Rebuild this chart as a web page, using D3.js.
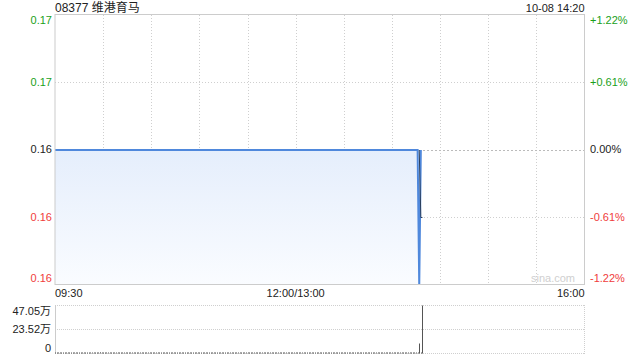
<!DOCTYPE html>
<html><head><meta charset="utf-8">
<script src="https://cdn.jsdelivr.net/npm/d3@7"></script>
<style>
html,body{margin:0;padding:0;background:#fff;}
svg{display:block;font-family:"Liberation Sans",Arial,"Noto Sans CJK SC",sans-serif;}
</style></head>
<body>
<svg id="c" width="640" height="360"></svg>
<script>
// ---- data ----
const title = "08377 维港育马";
const stamp = "10-08 14:20";
const prevClose = 0.164;
const priceTickValues = [0.166, 0.165, 0.164, 0.163, 0.162];
const priceTickLabels = ["0.17", "0.17", "0.16", "0.16", "0.16"];
const pctTickLabels = ["+1.22%", "+0.61%", "0.00%", "-0.61%", "-1.22%"];
const timeLabels = ["09:30", "12:00/13:00", "16:00"];
const timeLabelMinutes = [0, 150, 330];
const gridMinutes = [30, 60, 90, 120, 150, 180, 210, 240, 270, 300];
// price key points (minute index from 09:30, trading minutes)
const priceMinutes = [0, 226, 227, 228];
const priceValues = [0.164, 0.164, 0.162, 0.164];
const avgMinutes = [227, 228, 229];
const avgValues = [0.164, 0.163, 0.163];
// volume: minutes traded so far, and the non-zero volumes
const lastMinute = 229;
const volMinutes = [28, 227, 229];
const volValues = [12000, 98000, 470500];
const volTickValues = [470500, 235250, 0];
const volTickLabels = ["47.05万", "23.52万", "0"];

// ---- layout ----
const svg = d3.select("#c");
const L = 55, R = 584.5;
const x = d3.scaleLinear().domain([0, 330]).range([L, R]);
const y = d3.scaleLinear().domain([0.162, 0.166]).range([285, 15]);
const vy = d3.scaleLinear().domain([0, 470500]).range([353.5, 305.5]);
const GREEN = "#1a9f1a", RED = "#f03c3c", TXT = "#222", GRID = "#cfcfcf";
const crisp = v => Math.round(v - 0.5) + 0.5;

function colorFor(v) { return v > prevClose + 1e-9 ? GREEN : (v < prevClose - 1e-9 ? RED : TXT); }

// gradient
const defs = svg.append("defs");
const grad = defs.append("linearGradient").attr("id", "g").attr("x1", 0).attr("y1", 0).attr("x2", 0).attr("y2", 1);
grad.append("stop").attr("offset", "0%").attr("stop-color", "#e5eefc");
grad.append("stop").attr("offset", "100%").attr("stop-color", "#fafcff");

// title
svg.append("text").attr("x", 55).attr("y", 11.5).attr("font-size", 12).attr("fill", TXT).text(title);
svg.append("text").attr("x", R).attr("y", 12).attr("font-size", 11).attr("fill", TXT).attr("text-anchor", "end").text(stamp);

// main grid verticals
svg.append("g").selectAll("line").data(gridMinutes).join("line")
  .attr("x1", d => Math.round(x(d)) + 0.5).attr("x2", d => Math.round(x(d)) + 0.5)
  .attr("y1", 15).attr("y2", 284)
  .attr("stroke", GRID).attr("stroke-dasharray", "1,2");
// main grid horizontals
svg.append("g").selectAll("line").data(priceTickValues.slice(1, 4)).join("line")
  .attr("x1", L).attr("x2", R)
  .attr("y1", d => crisp(y(d))).attr("y2", d => crisp(y(d)))
  .attr("stroke", d => d === prevClose ? "#bbb" : GRID)
  .attr("stroke-dasharray", d => d === prevClose ? "2,2" : "1,2");

// area + line
const area = d3.area().x((d, i) => x(priceMinutes[i])).y0(284.5).y1(d => y(d));
svg.append("path").datum(priceValues).attr("d", area).attr("fill", "url(#g)");
const line = d3.line().x((d, i) => x(priceMinutes[i])).y(d => y(d));
svg.append("path").datum(priceValues).attr("d", line).attr("fill", "none")
  .attr("stroke", "#4f88dc").attr("stroke-width", 2);
svg.append("path").datum(avgValues).attr("d", d3.line().x((d, i) => x(avgMinutes[i])).y(d => y(d)))
  .attr("fill", "none").attr("stroke", "#2b3f5c").attr("stroke-width", 1);

// main border
svg.append("rect").attr("x", L).attr("y", 14.5).attr("width", R - L).attr("height", 270)
  .attr("fill", "none").attr("stroke", "#cccccc");

// left / right labels
const lab = svg.append("g").attr("font-size", 11);
const labY = [20, 82, 149.5, 217, 278];
lab.selectAll("text.l").data(priceTickValues).join("text").attr("class", "l")
  .attr("x", 52).attr("y", (d, i) => labY[i]).attr("dy", "0.35em").attr("text-anchor", "end")
  .attr("fill", d => colorFor(d)).text((d, i) => priceTickLabels[i]);
lab.selectAll("text.r").data(priceTickValues).join("text").attr("class", "r")
  .attr("x", 590).attr("y", (d, i) => labY[i]).attr("dy", "0.35em").attr("text-anchor", "start")
  .attr("fill", d => colorFor(d)).text((d, i) => pctTickLabels[i]);

// watermark
svg.append("text").attr("x", 575).attr("y", 282).attr("font-size", 11).attr("text-anchor", "end")
  .attr("fill", "#cfcfcf").text("sina.com");

// time labels
svg.append("g").attr("font-size", 11).selectAll("text").data(timeLabelMinutes).join("text")
  .attr("x", d => x(d)).attr("y", 297)
  .attr("text-anchor", (d, i) => i === 0 ? "start" : (i === 2 ? "end" : "middle"))
  .attr("fill", TXT).text((d, i) => timeLabels[i]);

// volume panel
const vg = svg.append("g");
vg.selectAll("line.h").data(volTickValues).join("line").attr("class", "h")
  .attr("x1", L).attr("x2", R).attr("y1", d => vy(d)).attr("y2", d => vy(d))
  .attr("stroke", GRID).attr("stroke-dasharray", "1,1");
vg.append("line").attr("x1", L + 0.5).attr("x2", L + 0.5).attr("y1", 305).attr("y2", 354).attr("stroke", "#cccccc");
vg.append("line").attr("x1", R).attr("x2", R).attr("y1", 305).attr("y2", 354).attr("stroke", GRID).attr("stroke-dasharray", "1,1");

const minutes = d3.range(0, lastMinute + 1);
const volAt = m => { const k = volMinutes.indexOf(m); return k < 0 ? 0 : volValues[k]; };
vg.selectAll("rect").data(minutes).join("rect")
  .attr("x", m => Math.round(x(m)))
  .attr("width", 1)
  .attr("y", m => Math.min(vy(volAt(m)), 352.5))
  .attr("height", m => Math.max(353.5 - vy(volAt(m)), 1))
  .attr("fill", "#555");

vg.selectAll("text").data(volTickValues).join("text")
  .attr("x", 51).attr("y", (d, i) => [315, 333, 352][i]).attr("text-anchor", "end")
  .attr("font-size", 11).attr("fill", TXT).text((d, i) => volTickLabels[i]);
</script>
</body></html>
